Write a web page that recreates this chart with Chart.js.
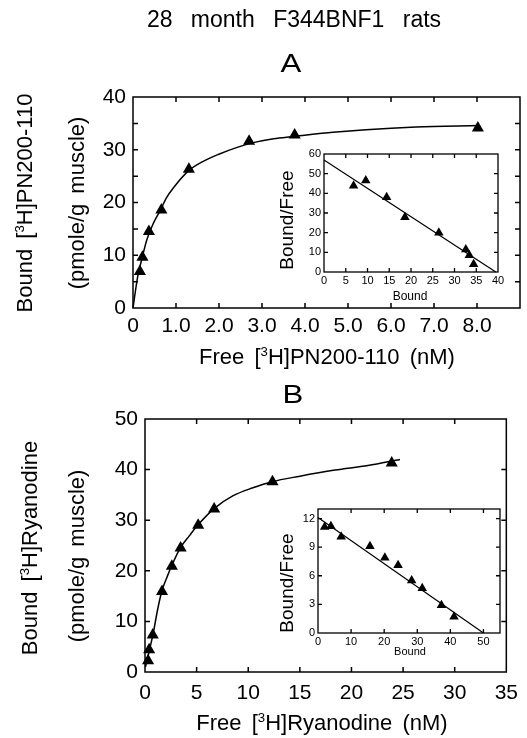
<!DOCTYPE html>
<html lang="en">
<head>
    <meta charset="UTF-8">
    <title>28 month F344BNF1 rats</title>
    <style>
        body {
            margin: 0;
            background: #fff;
        }
        #wrap {
            position: relative;
            width: 527px;
            height: 738px;
            background: #fff;
            overflow: hidden;
        }
        canvas {
            position: absolute;
        }
        .lbl {
            position: absolute;
            transform: translate(-50%, -50%);
            white-space: nowrap;
            font-family: 'Liberation Sans', Arial, sans-serif;
            line-height: 1;
            color: #000;
        }
        .rot {
            transform: translate(-50%, -50%) rotate(-90deg);
        }
        .lbl sup {
            font-size: 0.6em;
            vertical-align: 0;
            position: relative;
            top: -0.6em;
        }
    </style>
</head>
<body>
<div id="wrap">
    <canvas id="mainA" width="527" height="370" style="left:0;top:0"></canvas>
    <canvas id="mainB" width="527" height="368" style="left:0;top:370px"></canvas>
    <canvas id="insetA" width="240" height="160" style="left:270px;top:140px"></canvas>
    <canvas id="insetB" width="260" height="165" style="left:260px;top:495px"></canvas>

    <div class="lbl" style="left:294px;top:19px;font-size:23px;word-spacing:12px">28 month F344BNF1 rats</div>
    <div class="lbl" style="left:291px;top:63px;font-size:26px;transform:translate(-50%,-50%) scaleX(1.2)">A</div>
    <div class="lbl" style="left:293px;top:394px;font-size:26px;transform:translate(-50%,-50%) scaleX(1.2)">B</div>

    <div class="lbl" style="left:327px;top:357px;font-size:22px;word-spacing:4px">Free [<sup>3</sup>H]PN200-110 (nM)</div>
    <div class="lbl rot" style="left:25px;top:203px;font-size:22px;word-spacing:4px">Bound [<sup>3</sup>H]PN200-110</div>
    <div class="lbl rot" style="left:77px;top:203px;font-size:22px;word-spacing:4px">(pmole/g muscle)</div>

    <div class="lbl" style="left:322px;top:723px;font-size:22px;word-spacing:4px">Free [<sup>3</sup>H]Ryanodine (nM)</div>
    <div class="lbl rot" style="left:30px;top:548px;font-size:22px;word-spacing:4px">Bound [<sup>3</sup>H]Ryanodine</div>
    <div class="lbl rot" style="left:77px;top:556px;font-size:22px;word-spacing:4px">(pmole/g muscle)</div>

    <div class="lbl" style="left:410px;top:296px;font-size:12px">Bound</div>
    <div class="lbl rot" style="left:286px;top:220px;font-size:19px">Bound/Free</div>
    <div class="lbl" style="left:410px;top:651px;font-size:11px">Bound</div>
    <div class="lbl rot" style="left:286px;top:583px;font-size:19px">Bound/Free</div>
</div>

<script src="https://cdn.jsdelivr.net/npm/chart.js"></script>
<script>
    // panel A: [3H]PN200-110 saturation
    const freeA = [0.16, 0.22, 0.37, 0.66, 1.30, 2.70, 3.76, 8.02];
    const boundA = [6.9, 9.6, 14.5, 18.6, 26.3, 31.6, 32.8, 34.1];
    const fitFreeA = [0, 0.11, 0.20, 0.32, 0.47, 0.66, 0.77, 0.96, 1.29, 1.61, 1.98, 2.44, 2.82, 3.27, 3.73, 4.65, 5.42, 6.58, 8.05];
    const fitBoundA = [0, 6.0, 9.1, 12.9, 16.0, 18.9, 20.8, 23.0, 26.0, 27.7, 29.1, 30.5, 31.4, 32.1, 32.5, 33.3, 33.8, 34.3, 34.6];

    // panel A inset: Scatchard
    const scatBoundA = [6.8, 9.6, 14.4, 18.6, 26.4, 32.6, 33.4, 34.4];
    const scatRatioA = [43.8, 46.5, 38.0, 27.8, 19.9, 11.4, 8.5, 3.9];
    const scatLineXA = [0, 39.5];
    const scatLineYA = [57, 0];

    // panel B: [3H]Ryanodine saturation
    const freeB = [0.3, 0.4, 0.75, 1.65, 2.6, 3.45, 5.15, 6.7, 12.35, 23.9];
    const boundB = [2.2, 4.4, 7.3, 15.9, 20.9, 24.5, 29.0, 32.2, 37.6, 41.3];
    const fitFreeB = [0.05, 0.45, 0.81, 1.20, 1.62, 2.18, 2.56, 3.41, 4.29, 5.10, 6.69, 8.5, 10.45, 12.3, 15.0, 18.4, 21.6, 24.7];
    const fitBoundB = [1.0, 4.5, 7.8, 12.1, 15.9, 19.0, 20.9, 24.5, 26.9, 29.0, 32.3, 34.8, 36.4, 37.6, 38.7, 39.9, 40.8, 42.0];

    // panel B inset: Scatchard
    const scatBoundB = [2.0, 3.9, 7.0, 15.7, 20.2, 24.2, 28.3, 31.5, 37.3, 41.1];
    const scatRatioB = [11.1, 11.2, 10.1, 9.1, 7.9, 7.1, 5.5, 4.7, 2.9, 1.7];
    const scatLineXB = [0, 50];
    const scatLineYB = [12.1, 0];

    // ticks
    const ticksAx = [0, 1, 2, 3, 4, 5, 6, 7, 8];
    const labelsAx = ['0', '1.0', '2.0', '3.0', '4.0', '5.0', '6.0', '7.0', '8.0'];
    const ticksAy = [0, 10, 20, 30, 40];
    const marksAy = [5, 10, 15, 20, 25, 30, 35];
    const ticksBx = [0, 5, 10, 15, 20, 25, 30, 35];
    const ticksBy = [0, 10, 20, 30, 40, 50];
    const ticksIAx = [0, 5, 10, 15, 20, 25, 30, 35, 40];
    const ticksIAy = [0, 10, 20, 30, 40, 50, 60];
    const ticksIBx = [0, 10, 20, 30, 40, 50];
    const ticksIBy = [0, 3, 6, 9, 12];

    const pts = (xs, ys) => xs.map((x, i) => ({ x: x, y: ys[i] }));

    // box round the plot plus inward tick marks on all four sides
    const frame = {
        id: 'frame',
        afterDraw(chart, args, opts) {
            const { ctx, chartArea: a } = chart;
            const sx = chart.scales.x, sy = chart.scales.y;
            ctx.save();
            ctx.strokeStyle = '#000';
            ctx.lineWidth = opts.width;
            ctx.strokeRect(a.left, a.top, a.right - a.left, a.bottom - a.top);
            ctx.beginPath();
            opts.xMarks.forEach(v => {
                const px = sx.getPixelForValue(v);
                ctx.moveTo(px, a.bottom); ctx.lineTo(px, a.bottom - opts.len);
                ctx.moveTo(px, a.top); ctx.lineTo(px, a.top + opts.len);
            });
            opts.yMarks.forEach(v => {
                const py = sy.getPixelForValue(v);
                ctx.moveTo(a.left, py); ctx.lineTo(a.left + opts.len, py);
                ctx.moveTo(a.right, py); ctx.lineTo(a.right - opts.len, py);
            });
            ctx.stroke();
            ctx.restore();
        }
    };

    function axis(min, max, ticks, labels, size, pad, fit, horizontal) {
        return {
            type: 'linear',
            min: min,
            max: max,
            afterBuildTicks: s => { s.ticks = ticks.map(v => ({ value: v })); },
            afterFit: s => { if (horizontal) s.height = fit; else s.width = fit; },
            grid: { display: false, drawTicks: false },
            border: { display: false },
            ticks: {
                autoSkip: false,
                maxRotation: 0,
                padding: pad,
                color: '#000',
                font: { family: 'Liberation Sans', size: size },
                callback: (v, i) => labels ? labels[i] : String(v)
            }
        };
    }

    function makeChart(id, o) {
        new Chart(document.getElementById(id), {
            type: 'scatter',
            data: {
                datasets: [
                    {
                        data: pts(o.px, o.py),
                        pointStyle: 'triangle',
                        pointRadius: o.r,
                        backgroundColor: '#000',
                        borderColor: '#000',
                        borderWidth: 0,
                        showLine: false,
                        clip: false
                    },
                    {
                        data: pts(o.lx, o.ly),
                        showLine: true,
                        pointRadius: 0,
                        borderColor: '#000',
                        borderWidth: o.lw,
                        cubicInterpolationMode: 'monotone',
                        clip: false
                    }
                ]
            },
            options: {
                responsive: false,
                animation: false,
                events: [],
                layout: { padding: o.padding },
                scales: { x: o.x, y: o.y },
                plugins: {
                    legend: { display: false },
                    tooltip: { enabled: false },
                    frame: o.frame
                }
            },
            plugins: [frame]
        });
    }

    makeChart('mainA', {
        px: freeA, py: boundA, lx: fitFreeA, ly: fitBoundA, r: 7, lw: 1.5,
        padding: { top: 97, right: 3, left: 0, bottom: 0 },
        x: axis(0, 9, ticksAx, labelsAx, 21, 6, 62, true),
        y: axis(0, 40, ticksAy, null, 21, 7, 133, false),
        frame: { width: 1.5, len: 5, xMarks: ticksAx.slice(1), yMarks: marksAy }
    });

    makeChart('mainB', {
        px: freeB, py: boundB, lx: fitFreeB, ly: fitBoundB, r: 7, lw: 1.5,
        padding: { top: 49, right: 20, left: 0, bottom: 0 },
        x: axis(0, 35, ticksBx, null, 21, 9, 66, true),
        y: axis(0, 50, ticksBy, null, 21, 7, 145, false),
        frame: { width: 1.5, len: 5, xMarks: ticksBx.slice(1, -1), yMarks: ticksBy.slice(1, -1) }
    });

    makeChart('insetA', {
        px: scatBoundA, py: scatRatioA, lx: scatLineXA, ly: scatLineYA, r: 5.5, lw: 1.2,
        padding: { top: 14, right: 12, left: 0, bottom: 0 },
        x: axis(0, 40, ticksIAx, null, 11, 2, 28, true),
        y: axis(0, 60, ticksIAy, null, 11, 3, 54, false),
        frame: { width: 1.3, len: 4, xMarks: ticksIAx.slice(1, -1), yMarks: ticksIAy.slice(1, -1) }
    });

    makeChart('insetB', {
        px: scatBoundB, py: scatRatioB, lx: scatLineXB, ly: scatLineYB, r: 5.5, lw: 1.2,
        padding: { top: 14, right: 20, left: 0, bottom: 0 },
        x: axis(0, 55, ticksIBx, null, 11, 2, 27, true),
        y: axis(0, 13, ticksIBy, null, 11, 3, 58, false),
        frame: { width: 1.3, len: 4, xMarks: ticksIBx.slice(1), yMarks: ticksIBy.slice(1) }
    });
</script>
</body>
</html>
